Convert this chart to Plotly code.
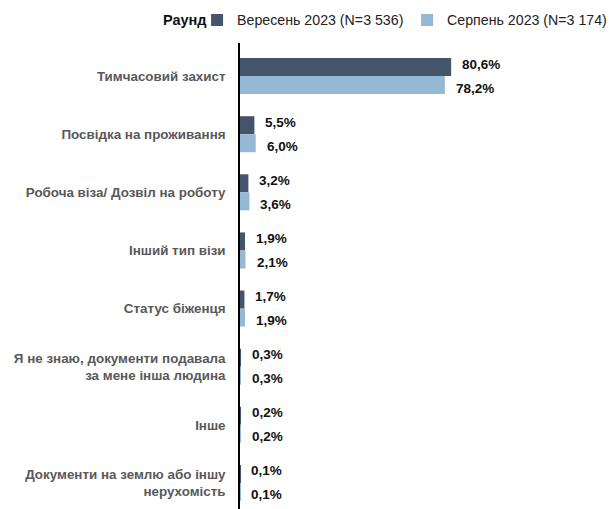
import plotly.graph_objects as go

categories = [
    "Тимчасовий захист",
    "Посвідка на проживання",
    "Робоча віза/ Дозвіл на роботу",
    "Інший тип візи",
    "Статус біженця",
    "Я не знаю, документи подавала<br>за мене інша людина",
    "Інше",
    "Документи на землю або іншу<br>нерухомість",
]
series_names = ["Вересень 2023 (N=3 536)", "Серпень 2023 (N=3 174)"]
sep_values = [80.6, 5.5, 3.2, 1.9, 1.7, 0.3, 0.2, 0.1]
aug_values = [78.2, 6.0, 3.6, 2.1, 1.9, 0.3, 0.2, 0.1]
colors = ["#44546A", "#95B8D4"]
legend_title = "Раунд"

FONT = "Liberation Sans, Arial, sans-serif"

fig = go.Figure()
for name, vals, col in zip(series_names, [sep_values, aug_values], colors):
    fig.add_trace(go.Bar(
        y=categories, x=vals, name=name, orientation="h",
        marker=dict(color=col, line=dict(width=0)),
        hoverinfo="skip",
    ))

def fmt(v):
    return f"{v:.1f}".replace(".", ",") + "%"

annotations = []
for vals, shift in [(sep_values, 12), (aug_values, -12)]:
    for c, v in zip(categories, vals):
        annotations.append(dict(
            x=v, y=c, xref="x", yref="y", text=f"<b>{fmt(v)}</b>",
            showarrow=False, xanchor="left", yanchor="middle",
            xshift=9, yshift=shift,
            font=dict(family=FONT, size=13.5, color="#111111"),
        ))

# legend title drawn as an annotation so the legend row stays compact
annotations.append(dict(
    x=-0.3015, y=1.049, xref="paper", yref="paper",
    text=f"<b>{legend_title}</b>", showarrow=False,
    xanchor="left", yanchor="middle",
    font=dict(family=FONT, size=14.5, color="#111111"),
))

fig.update_layout(
    width=607, height=501,
    margin=dict(l=232, r=113, t=35, b=0, autoexpand=False),
    paper_bgcolor="white", plot_bgcolor="white",
    barmode="group", bargap=0.38, bargroupgap=0,
    font=dict(family=FONT, size=13, color="#111111"),
    showlegend=True,
    legend=dict(
        orientation="h", xref="paper", yref="paper",
        x=-0.1638, xanchor="left", y=1.049, yanchor="middle",
        font=dict(size=14.2, color="#222222"),
        itemclick=False, itemdoubleclick=False,
        tracegroupgap=0, itemwidth=30,
        entrywidth=165, entrywidthmode="pixels",
    ),
    annotations=annotations,
    xaxis=dict(range=[0, 100], visible=False, fixedrange=True),
    yaxis=dict(
        type="category", categoryorder="array", categoryarray=categories,
        range=[7.448, -0.569],
        showline=True, linecolor="#000000", linewidth=1.5,
        showgrid=False, zeroline=False, ticks="",
        ticklabelstandoff=10,
        tickfont=dict(family=FONT, size=13.4, color="#595959", weight="bold"),
        fixedrange=True,
    ),
)

fig.write_html("out.html")
